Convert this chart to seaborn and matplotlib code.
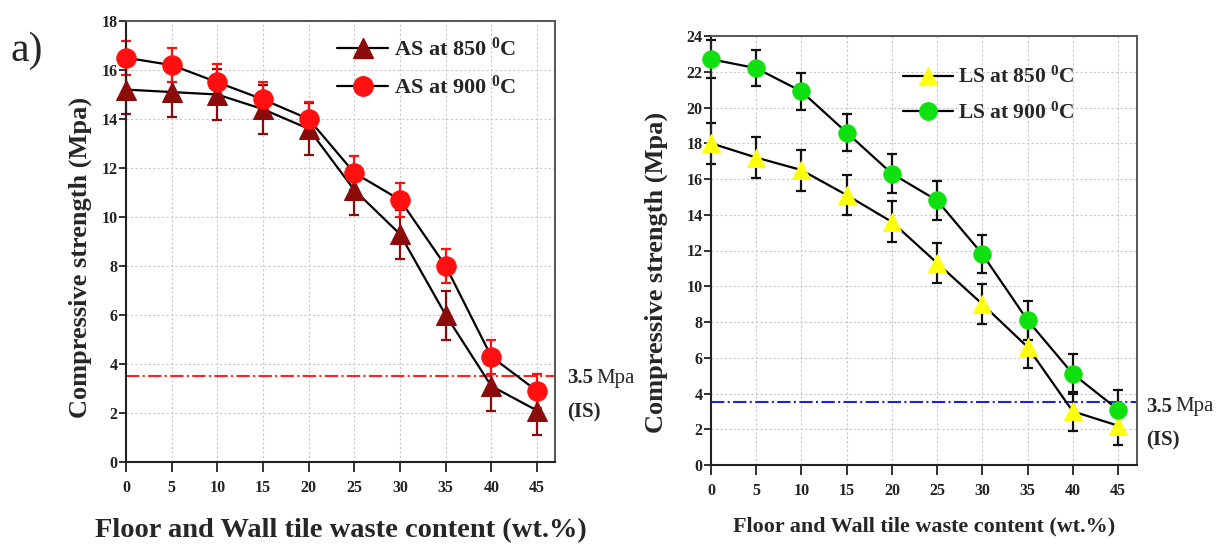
import matplotlib
matplotlib.use("Agg")
import matplotlib.pyplot as plt
import seaborn as sns
import pandas as pd
import numpy as np
from matplotlib.lines import Line2D

# ---- data ----
content = [0, 5, 10, 15, 20, 25, 30, 35, 40, 45]
as_850 = [15.2, 15.1, 15.0, 14.4, 13.6, 11.1, 9.3, 6.0, 3.1, 2.1]
as_850_err = [1.0, 1.0, 1.05, 1.0, 1.05, 1.0, 1.0, 1.0, 1.0, 1.0]
as_900 = [16.5, 16.2, 15.5, 14.8, 14.0, 11.8, 10.7, 8.0, 4.3, 2.9]
as_900_err = [0.7, 0.7, 0.75, 0.7, 0.7, 0.7, 0.7, 0.7, 0.7, 0.7]
ls_850 = [18.0, 17.2, 16.5, 15.1, 13.6, 11.3, 9.0, 6.6, 3.0, 2.2]
ls_850_err = [1.15, 1.15, 1.15, 1.1, 1.15, 1.1, 1.1, 1.15, 1.1, 1.1]
ls_900 = [22.7, 22.2, 20.9, 18.6, 16.3, 14.8, 11.8, 8.1, 5.1, 3.1]
ls_900_err = [1.05, 1.0, 1.05, 1.05, 1.1, 1.1, 1.05, 1.1, 1.1, 1.1]
limit = 3.5

sns.set_theme(style="white")
plt.rcParams['font.family'] = ['Liberation Serif', 'DejaVu Serif']
plt.rcParams['font.weight'] = 'bold'
plt.rcParams['mathtext.fontset'] = 'custom'
plt.rcParams['mathtext.rm'] = 'Liberation Serif:bold'
plt.rcParams['mathtext.default'] = 'rm'

W, H = 1216, 549
fig = plt.figure(figsize=(W / 100, H / 100), dpi=100)


def add_axes(x0, x1, y0, y1):
    return fig.add_axes([x0 / W, 1 - y1 / H, (x1 - x0) / W, (y1 - y0) / H])


ax1 = add_axes(126, 555, 21, 462)
ax2 = add_axes(711, 1137, 36, 465)


def panel(ax, y1, e1, y2, e2, lab1, lab2, c1, c2, ecol1, ecol2, ymax, xmax,
          lcol, xl_size, yl_size, msize, leg_anchor, leg_size, xlab_pos, ylab_pos):
    df = pd.DataFrame({
        "x": content * 2,
        "y": y1 + y2,
        "s": [lab1] * len(content) + [lab2] * len(content),
    })
    ax.errorbar(content, y1, yerr=e1, fmt='none', ecolor=ecol1, elinewidth=1.6,
                capsize=3.5, capthick=1.6, zorder=2, clip_on=False)
    ax.errorbar(content, y2, yerr=e2, fmt='none', ecolor=ecol2, elinewidth=1.6,
                capsize=3.5, capthick=1.6, zorder=2, clip_on=False)
    sns.lineplot(data=df, x="x", y="y", hue="s", style="s",
                 palette={lab1: 'black', lab2: 'black'},
                 markers={lab1: '^', lab2: 'o'}, dashes=False,
                 markersize=msize, linewidth=1.6, ax=ax, zorder=3, legend=False)
    lines = ax.get_lines()
    for ln, c in zip(lines[-2:], [c1, c2]):
        ln.set_markerfacecolor(c)
        ln.set_markeredgecolor(c)
        ln.set_clip_on(False)
    ax.axhline(limit, color=lcol, linestyle='-.', linewidth=1.5, zorder=1)
    ax.set_xlim(0, xmax)
    ax.set_ylim(0, ymax)
    ax.set_xticks(content)
    ax.set_yticks(np.arange(0, ymax + 1, 2))
    ax.grid(True, color='#c8c8c8', linestyle=(0, (2, 2)), linewidth=0.8)
    ax.tick_params(axis='x', which='major', direction='out', length=7, width=1.3,
                   pad=6, labelsize=11.5, bottom=True, colors='#222222')
    ax.tick_params(axis='y', which='major', direction='out', length=5, width=1.3,
                   pad=1, labelsize=11.5, left=True, colors='#222222')
    for lbl in ax.get_xticklabels() + ax.get_yticklabels():
        lbl.set_fontweight('bold')
    for side in ['left', 'bottom']:
        ax.spines[side].set_color('#222222')
        ax.spines[side].set_linewidth(1.5)
    for side in ['right', 'top']:
        ax.spines[side].set_color('#555555')
        ax.spines[side].set_linewidth(1.4)
    ax.set_ylabel("Compressive strength (Mpa)", fontsize=yl_size, fontweight='bold')
    ax.yaxis.set_label_coords(*ylab_pos)
    ax.set_xlabel("Floor and Wall tile waste content (wt.%)", fontsize=xl_size,
                  fontweight='bold')
    ax.xaxis.set_label_coords(*xlab_pos)
    handles = [Line2D([], [], color='black', lw=1.6, marker='^', markersize=msize,
                      markerfacecolor=c1, markeredgecolor=c1),
               Line2D([], [], color='black', lw=1.6, marker='o', markersize=msize,
                      markerfacecolor=c2, markeredgecolor=c2)]
    leg = fig.legend(handles, [lab1, lab2], loc='upper left',
                     bbox_to_anchor=(leg_anchor[0] / W, 1 - leg_anchor[1] / H),
                     frameon=False, fontsize=leg_size, handlelength=2.3,
                     handletextpad=0.25, labelspacing=0.65, borderpad=0,
                     borderaxespad=0)
    for t in leg.get_texts():
        t.set_fontweight('bold')


panel(ax1, as_850, as_850_err, as_900, as_900_err,
      "AS at 850 $^{0}$C", "AS at 900 $^{0}$C",
      '#8b0a0a', '#ff1010', '#8b0a0a', '#ff1010', 18, 46.97, '#ff2020',
      20.5, 19, 14, (337, 38), 16,
      (0.501, -0.127), (-0.08, 0.463))
panel(ax2, ls_850, ls_850_err, ls_900, ls_900_err,
      "LS at 850 $^{0}$C", "LS at 900 $^{0}$C",
      '#ffff10', '#10e010', '#111111', '#111111', 24, 47.1, '#2020e0',
      15.9, 19, 12.5, (903, 67), 15.5,
      (0.5, -0.121), (-0.101, 0.45))

# labels for IS limit
fig.text(567 / W, 1 - 378 / H, "3.5", fontsize=15, fontweight='bold', va='center', ha='left')
fig.text(596 / W, 1 - 378 / H, "Mpa", fontsize=15, fontweight='normal', va='center', ha='left')
fig.text(567 / W, 1 - 412 / H, "(IS)", fontsize=15, fontweight='bold', va='center', ha='left')
fig.text(1146 / W, 1 - 407 / H, "3.5", fontsize=15, fontweight='bold', va='center', ha='left')
fig.text(1175 / W, 1 - 407 / H, "Mpa", fontsize=15, fontweight='normal', va='center', ha='left')
fig.text(1146 / W, 1 - 440 / H, "(IS)", fontsize=15, fontweight='bold', va='center', ha='left')

fig.text(10 / W, 1 - 51 / H, "a)", fontsize=30, fontweight='normal', va='center', ha='left')

fig.savefig("out.png", dpi=100)
